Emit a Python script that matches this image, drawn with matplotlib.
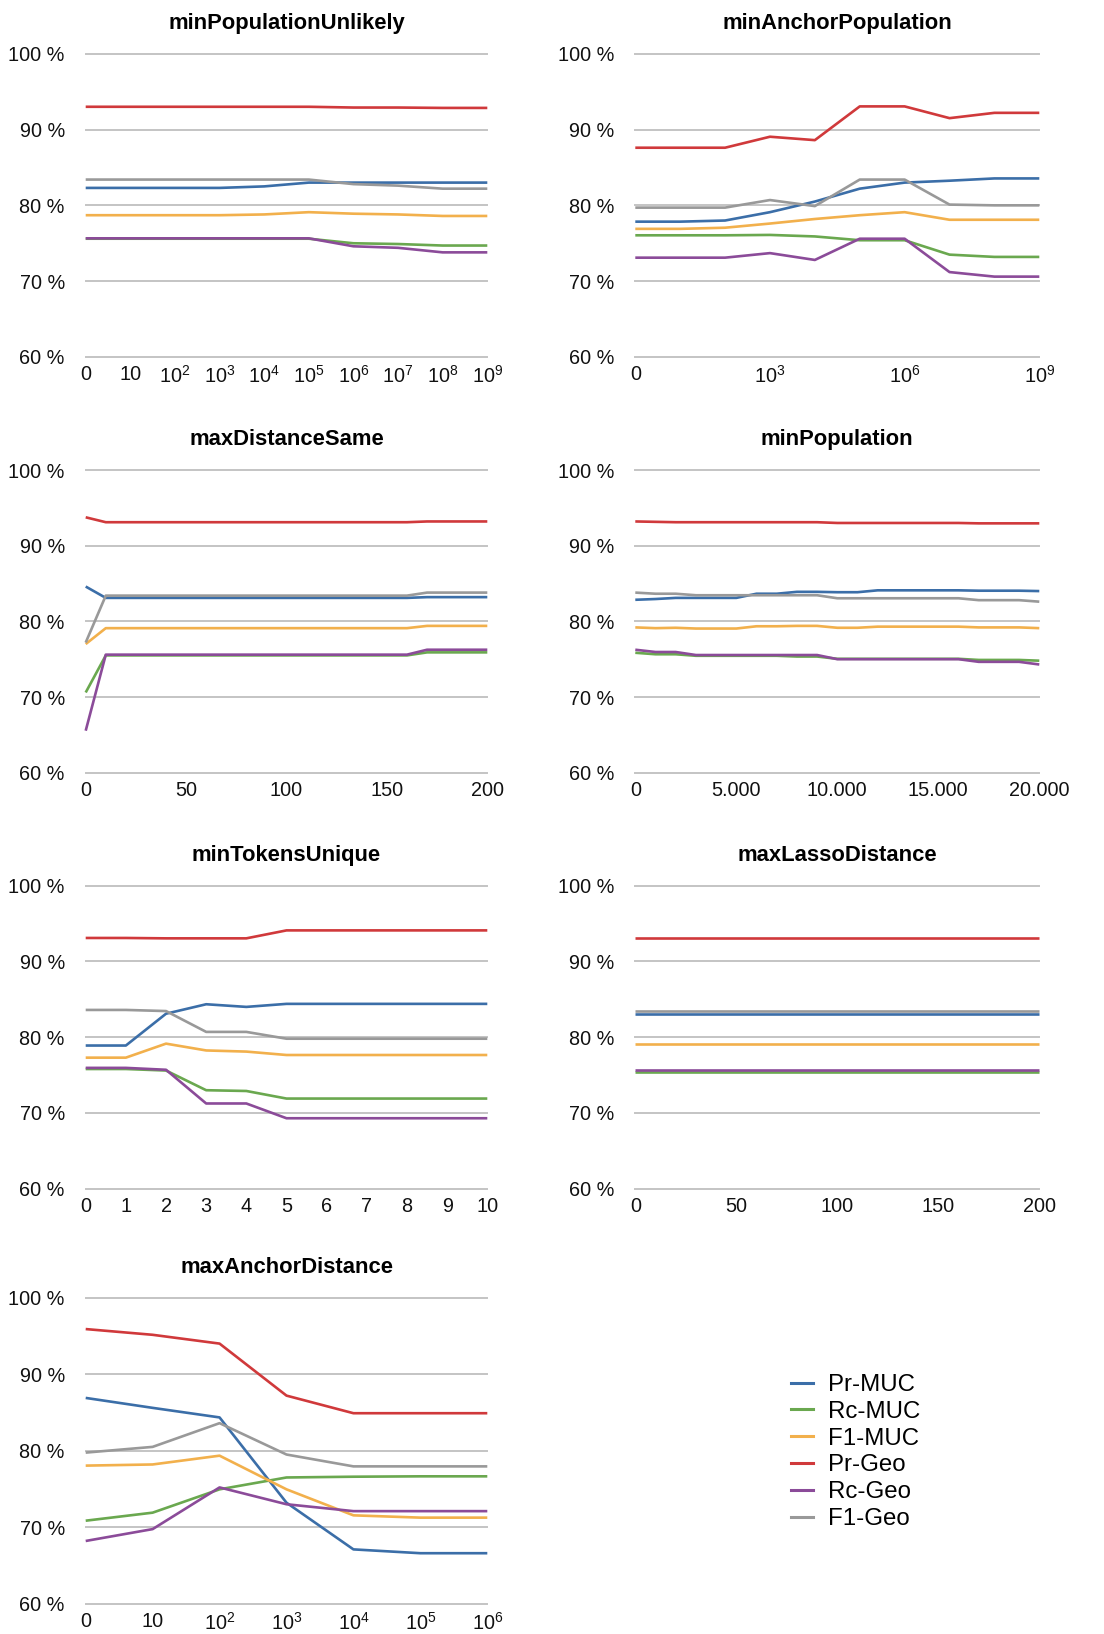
import numpy as np
import matplotlib.pyplot as plt

plt.rcParams['font.family'] = ['Liberation Sans', 'DejaVu Sans']
plt.rcParams['mathtext.fontset'] = 'custom'
plt.rcParams['mathtext.rm'] = 'Liberation Sans'
plt.rcParams['mathtext.it'] = 'Liberation Sans'

series = ["Pr-MUC", "Rc-MUC", "F1-MUC", "Pr-Geo", "Rc-Geo", "F1-Geo"]
colors = ["#3b6ea8", "#6aa84f", "#f2b04c", "#d0393b", "#8b4b99", "#999999"]

pow_labels = ["0", "10"] + [r"$\mathregular{10^{%d}}$" % k for k in range(2, 10)]

# minPopulationUnlikely: 0, 10, 10^2 ... 10^9
unlikely_labels = pow_labels[:10]
unlikely = [
    [82.3, 82.3, 82.3, 82.3, 82.5, 83.0, 83.0, 83.0, 83.0, 83.0],
    [75.6, 75.6, 75.6, 75.6, 75.6, 75.6, 75.0, 74.9, 74.7, 74.7],
    [78.7, 78.7, 78.7, 78.7, 78.8, 79.1, 78.9, 78.8, 78.6, 78.6],
    [93.0, 93.0, 93.0, 93.0, 93.0, 93.0, 92.9, 92.9, 92.85, 92.85],
    [75.65, 75.65, 75.65, 75.65, 75.65, 75.65, 74.6, 74.4, 73.8, 73.8],
    [83.4, 83.4, 83.4, 83.4, 83.4, 83.4, 82.8, 82.6, 82.2, 82.2],
]

# minAnchorPopulation: 0, 10 ... 10^9, labelled every third step
anchor_pop_labels = pow_labels[:10]
anchor_pop = [
    [77.85, 77.85, 78.0, 79.1, 80.5, 82.2, 83.0, 83.25, 83.55, 83.55],
    [76.05, 76.05, 76.05, 76.1, 75.9, 75.4, 75.4, 73.5, 73.2, 73.2],
    [76.9, 76.9, 77.05, 77.6, 78.2, 78.7, 79.1, 78.1, 78.1, 78.1],
    [87.6, 87.6, 87.6, 89.05, 88.6, 93.05, 93.05, 91.5, 92.2, 92.2],
    [73.1, 73.1, 73.1, 73.7, 72.8, 75.6, 75.6, 71.2, 70.6, 70.6],
    [79.7, 79.7, 79.7, 80.7, 79.9, 83.4, 83.4, 80.1, 80.0, 80.0],
]

# maxDistanceSame
dist_same_x = [0, 10, 160, 170, 200]
dist_same = [
    [84.6, 83.1, 83.1, 83.2, 83.2],
    [70.6, 75.5, 75.5, 75.9, 75.9],
    [77.0, 79.1, 79.1, 79.4, 79.4],
    [93.75, 93.1, 93.1, 93.2, 93.2],
    [65.55, 75.6, 75.6, 76.25, 76.25],
    [77.2, 83.4, 83.4, 83.8, 83.8],
]

# minPopulation, steps of 1.000
min_pop_x = list(range(0, 20001, 1000))
min_pop = [
    [82.85, 82.95, 83.1, 83.1, 83.1, 83.1, 83.65, 83.65, 83.9, 83.9, 83.85,
     83.85, 84.1, 84.1, 84.1, 84.1, 84.1, 84.05, 84.05, 84.05, 84.0],
    [75.85, 75.65, 75.65, 75.45, 75.45, 75.45, 75.45, 75.45, 75.35, 75.35, 75.05,
     75.05, 75.05, 75.05, 75.05, 75.05, 75.05, 74.9, 74.9, 74.9, 74.8],
    [79.2, 79.1, 79.15, 79.05, 79.05, 79.05, 79.35, 79.35, 79.4, 79.4, 79.15,
     79.15, 79.3, 79.3, 79.3, 79.3, 79.3, 79.2, 79.2, 79.2, 79.1],
    [93.2, 93.15, 93.1, 93.1, 93.1, 93.1, 93.1, 93.1, 93.1, 93.1, 93.0,
     93.0, 93.0, 93.0, 93.0, 93.0, 93.0, 92.95, 92.95, 92.95, 92.95],
    [76.25, 75.95, 75.95, 75.55, 75.55, 75.55, 75.55, 75.55, 75.55, 75.55, 75.0,
     75.0, 75.0, 75.0, 75.0, 75.0, 75.0, 74.65, 74.65, 74.65, 74.3],
    [83.8, 83.65, 83.65, 83.45, 83.45, 83.45, 83.45, 83.45, 83.45, 83.45, 83.05,
     83.05, 83.05, 83.05, 83.05, 83.05, 83.05, 82.8, 82.8, 82.8, 82.6],
]
min_pop_ticks = [0, 5000, 10000, 15000, 20000]
min_pop_ticklabels = ["0", "5.000", "10.000", "15.000", "20.000"]

# minTokensUnique
tokens_x = list(range(11))
tokens = [
    [78.9, 78.9, 83.1, 84.35, 84.0, 84.4, 84.4, 84.4, 84.4, 84.4, 84.4],
    [75.8, 75.8, 75.6, 73.0, 72.9, 71.9, 71.9, 71.9, 71.9, 71.9, 71.9],
    [77.3, 77.3, 79.15, 78.25, 78.1, 77.65, 77.65, 77.65, 77.65, 77.65, 77.65],
    [93.1, 93.1, 93.05, 93.05, 93.05, 94.1, 94.1, 94.1, 94.1, 94.1, 94.1],
    [75.95, 75.95, 75.7, 71.25, 71.25, 69.3, 69.3, 69.3, 69.3, 69.3, 69.3],
    [83.6, 83.6, 83.45, 80.7, 80.7, 79.8, 79.8, 79.8, 79.8, 79.8, 79.8],
]

# maxLassoDistance
lasso_x = [0, 200]
lasso = [
    [83.1, 83.1],
    [75.45, 75.45],
    [79.1, 79.1],
    [93.1, 93.1],
    [75.65, 75.65],
    [83.4, 83.4],
]

# maxAnchorDistance: 0, 10 ... 10^6
anchor_dist_labels = pow_labels[:7]
anchor_dist = [
    [86.9, 85.6, 84.35, 73.2, 67.1, 66.6, 66.6],
    [70.85, 71.9, 74.95, 76.5, 76.6, 76.65, 76.65],
    [78.05, 78.2, 79.35, 74.95, 71.55, 71.25, 71.25],
    [95.9, 95.15, 94.0, 87.2, 84.9, 84.9, 84.9],
    [68.2, 69.75, 75.2, 73.0, 72.1, 72.1, 72.1],
    [79.75, 80.5, 83.6, 79.5, 77.95, 77.95, 77.95],
]

W, H = 1104, 1634
fig = plt.figure(figsize=(W / 100, H / 100), dpi=100)

col_x = [(85.7, 487.3), (635.3, 1039.3)]
row_y = [(53.7, 357.0), (470.0, 772.7), (885.7, 1188.7), (1297.7, 1603.7)]


def make_axes(row, col):
    x0, x1 = col_x[col]
    y0, y1 = row_y[row]
    return fig.add_axes([x0 / W, 1 - y1 / H, (x1 - x0) / W, (y1 - y0) / H])


def draw_panel(ax, title, x, data, ticks, ticklabels):
    for vals, c in zip(data, colors):
        ax.plot(x, vals, color=c, lw=1.9, clip_on=False,
                solid_joinstyle='round', solid_capstyle='butt', zorder=3)
    ax.set_xlim(x[0], x[-1])
    ax.set_ylim(60, 100)
    ax.set_yticks([60, 70, 80, 90, 100])
    ax.set_yticklabels(["%d %%" % v for v in [60, 70, 80, 90, 100]])
    ax.set_xticks(ticks)
    ax.set_xticklabels(ticklabels)
    ax.tick_params(axis='both', length=0, labelsize=14.3, colors='#111111')
    ax.tick_params(axis='y', pad=15)
    ax.tick_params(axis='x', pad=6)
    for s in ax.spines.values():
        s.set_visible(False)
    ax.yaxis.grid(True, color='#c4c4c4', lw=1.4)
    ax.set_axisbelow(True)
    for g in ax.get_ygridlines():
        g.set_clip_on(False)
    ax.set_title(title, fontsize=15.8, fontweight='bold', pad=18)


ax = make_axes(0, 0)
idx = list(range(len(unlikely_labels)))
draw_panel(ax, "minPopulationUnlikely", idx, unlikely, idx, unlikely_labels)

ax = make_axes(0, 1)
idx = list(range(len(anchor_pop_labels)))
draw_panel(ax, "minAnchorPopulation", idx, anchor_pop, [0, 3, 6, 9],
           [anchor_pop_labels[i] for i in [0, 3, 6, 9]])

ax = make_axes(1, 0)
draw_panel(ax, "maxDistanceSame", dist_same_x, dist_same,
           [0, 50, 100, 150, 200], ["0", "50", "100", "150", "200"])

ax = make_axes(1, 1)
draw_panel(ax, "minPopulation", min_pop_x, min_pop, min_pop_ticks, min_pop_ticklabels)

ax = make_axes(2, 0)
draw_panel(ax, "minTokensUnique", tokens_x, tokens, tokens_x, [str(t) for t in tokens_x])

ax = make_axes(2, 1)
draw_panel(ax, "maxLassoDistance", lasso_x, lasso,
           [0, 50, 100, 150, 200], ["0", "50", "100", "150", "200"])

ax = make_axes(3, 0)
idx = list(range(len(anchor_dist_labels)))
draw_panel(ax, "maxAnchorDistance", idx, anchor_dist, idx, anchor_dist_labels)

handles = [plt.Line2D([], [], color=c, lw=2.2) for c in colors]
fig.legend(handles, series, loc='upper left', bbox_to_anchor=(791 / W, 1 - 1374 / H),
           frameon=False, fontsize=17.3, handlelength=0.9, handletextpad=0.65,
           labelspacing=0.2, borderpad=0, borderaxespad=0)

fig.savefig("out.png", dpi=100, facecolor='white')
